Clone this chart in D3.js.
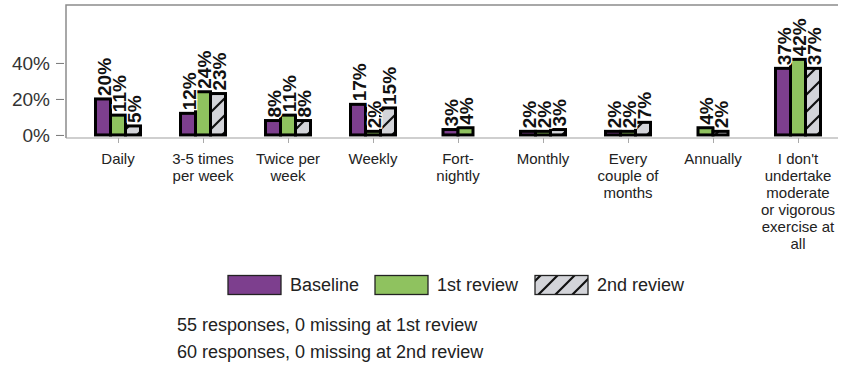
<!DOCTYPE html>
<html><head><meta charset="utf-8">
<script src="https://cdn.jsdelivr.net/npm/d3@7"></script>
<style>
html,body{margin:0;padding:0;background:#fff;}
svg{display:block;font-family:"Liberation Sans",Arial,sans-serif;}
</style></head>
<body><svg id="c" width="844" height="365"></svg>
<script>
const categories = ["Daily","3-5 times per week","Twice per week","Weekly","Fort-nightly","Monthly","Every couple of months","Annually","I don't undertake moderate or vigorous exercise at all"];
const categoryLines = [["Daily"],["3-5 times","per week"],["Twice per","week"],["Weekly"],["Fort-","nightly"],["Monthly"],["Every","couple of","months"],["Annually"],["I don't","undertake","moderate","or vigorous","exercise at","all"]];
const seriesNames = ["Baseline","1st review","2nd review"];
const baseline  = [20,12,8,17,3,2,2,null,37];
const review1   = [11,24,11,2,4,2,2,4,42];
const review2   = [5,23,8,15,null,3,7,2,37];
const yTicks = [0,20,40];
const notes = ["55 responses, 0 missing at 1st review","60 responses, 0 missing at 2nd review"];

const colors = ["#7d3f8e","#8fc25f","url(#hatch)"];
const svg = d3.select("#c");
const defs = svg.append("defs");
const pat = defs.append("pattern").attr("id","hatch").attr("patternUnits","userSpaceOnUse")
  .attr("width",17).attr("height",17);
pat.append("rect").attr("width",17).attr("height",17).attr("fill","#d3d4d9");
pat.append("path").attr("d","M-2,19 L19,-2 M-4,4 L4,-4 M13,21 L21,13").attr("stroke","#111").attr("stroke-width",2.2);

const x = d3.scalePoint().domain(categories).range([118,798]);
const y = d3.scaleLinear().domain([-1.7,72.2]).range([138,5]);
const barW = 15;

// frame
svg.append("path").attr("d",`M66,138 L66,5 L838,5`).attr("fill","none").attr("stroke","#8c8c8c").attr("stroke-width",1.5);
svg.append("line").attr("x1",66).attr("x2",838).attr("y1",138).attr("y2",138).attr("stroke","#a0a0a0").attr("stroke-width",1.2);

// y axis
const yAxis = d3.axisLeft(y).tickValues(yTicks).tickFormat(d=>d+"%").tickSize(8).tickSizeOuter(0);
const ya = svg.append("g").attr("transform","translate(64,0)").call(yAxis);
ya.select(".domain").remove();
ya.selectAll(".tick line").attr("stroke","#777");
ya.selectAll(".tick text").attr("font-size",19).attr("fill","#333").attr("font-family","Liberation Sans, Arial").attr("x",-14);

// x axis ticks
const xa = svg.append("g").attr("transform","translate(0,138)")
  .call(d3.axisBottom(x).tickSize(5).tickFormat(""));
xa.select(".domain").remove();
xa.selectAll(".tick line").attr("stroke","#aaa");

// category labels
categories.forEach((c,i)=>{
  const t = svg.append("text").attr("x",x(c)).attr("y",164).attr("text-anchor","middle")
    .attr("font-size",15).attr("fill","#222");
  categoryLines[i].forEach((ln,k)=>{
    t.append("tspan").attr("x",x(c)).attr("dy",k===0?0:17).text(ln);
  });
});

// bars
const allSeries = [baseline, review1, review2];
const bars = [];
categories.forEach((c,i)=>{
  const present = [0,1,2].filter(s=>allSeries[s][i]!==null);
  present.forEach((s,j)=>{
    const off = (j-(present.length-1)/2)*barW;
    bars.push({c, s, v:allSeries[s][i], cx:x(c)+off});
  });
});
svg.append("g").selectAll("rect").data(bars).join("rect")
  .attr("x",d=>d.cx-barW/2).attr("width",barW)
  .attr("y",d=>y(d.v)).attr("height",d=>y(0)-y(d.v))
  .attr("fill",d=>colors[d.s]).attr("stroke","#000").attr("stroke-width",3);

// value labels
svg.append("g").selectAll("text").data(bars).join("text")
  .attr("transform",d=>`translate(${d.cx+1},${y(d.v)-3}) rotate(-90)`)
  .attr("text-anchor","start").attr("dominant-baseline","central")
  .attr("font-size",19).attr("font-weight","bold").attr("fill","#111")
  .attr("stroke","#fff").attr("stroke-width",2.5).attr("paint-order","stroke")
  .text(d=>d.v+"%");

// legend
const legX = [228,375,535];
const lg = svg.append("g");
seriesNames.forEach((n,i)=>{
  lg.append("rect").attr("x",legX[i]).attr("y",275.5).attr("width",53).attr("height",19)
    .attr("fill",colors[i]).attr("stroke","#222").attr("stroke-width",1.3);
  lg.append("text").attr("x",legX[i]+62).attr("y",291).attr("font-size",18).attr("fill","#222").text(n);
});

// notes
notes.forEach((n,i)=>{
  svg.append("text").attr("x",177).attr("y",331+i*27).attr("font-size",18).attr("fill","#222").text(n);
});
</script></body></html>
